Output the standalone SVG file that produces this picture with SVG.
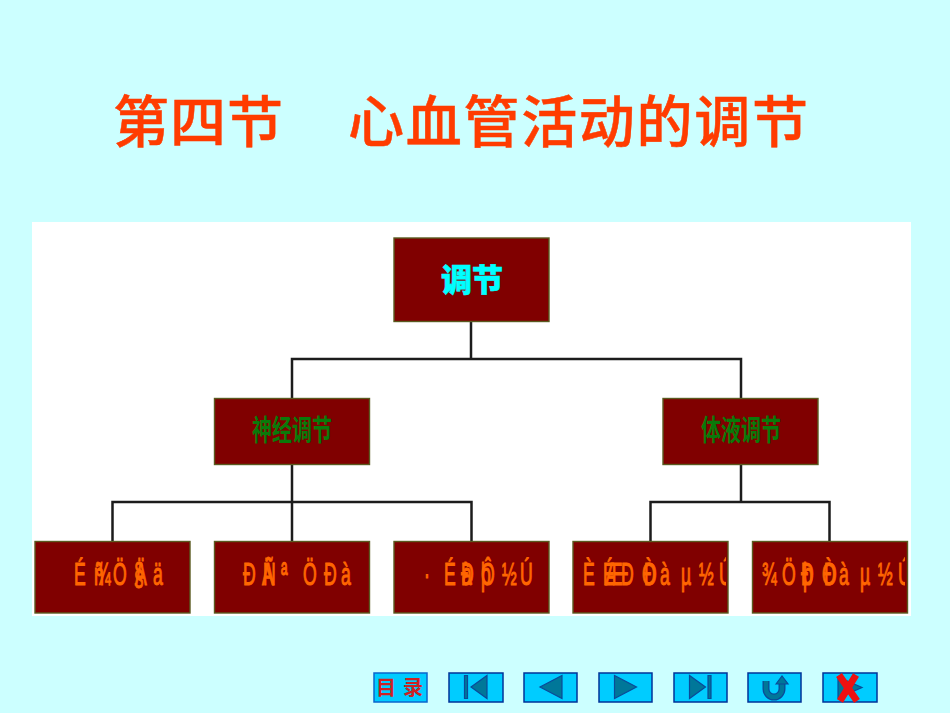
<svg xmlns="http://www.w3.org/2000/svg" width="950" height="713" viewBox="0 0 950 713">
<style>
.cjk{font-family:"Noto Sans CJK SC","Noto Sans",sans-serif}
.title{font-size:56px;fill:#ff3c00;font-weight:500;stroke:#ff3c00;stroke-width:.5}
.box{fill:#800000;stroke:#5a5a20;stroke-width:1.4}
.conn{fill:none;stroke:#1c1c1c;stroke-width:2.500}
.g{font-family:"Liberation Sans",sans-serif;font-size:32px;fill:#ff6600;stroke:#ff6600;stroke-width:1.1}
.lv2{font-size:29px;fill:#0a7a0a;font-weight:700}
.btn{fill:#00ccff;stroke:#003399;stroke-width:1.5}
.ic{fill:#007799;stroke:#0a4a99;stroke-width:1.2}
</style>
<defs>
<clipPath id="c4"><rect x="573" y="541" width="153" height="72"/></clipPath>
<clipPath id="c5"><rect x="752" y="541" width="153" height="72"/></clipPath>
</defs>
<rect width="950" height="713" fill="#ccffff"/>
<rect x="32" y="222" width="879" height="394" fill="#ffffff"/>
<g id="title" class="cjk title">
<text x="113" y="142" textLength="170" lengthAdjust="spacing">第四节</text>
<text x="348" y="142" textLength="460" lengthAdjust="spacing">心血管活动的调节</text>
</g>
<g id="connectors">
<path class="conn" d="M471 322V359M292 398V359H741V398"/>
<path class="conn" d="M292 465V502M112.500 541V502H471.500V541M292 502V541"/>
<path class="conn" d="M741 465V502M650.500 541V502H829.500V541"/>
</g>
<g id="root"><rect class="box" x="394" y="238" width="155" height="83.500"/>
<text class="cjk" x="441 472" y="291" font-size="31" font-weight="900" fill="#00ffff" stroke="#00ffff" stroke-width=".6">调节</text></g>
<g id="neural"><rect class="box" x="214.500" y="398.500" width="155" height="66"/>
<text class="cjk lv2" transform="translate(252 441) scale(.69 1)">神经调节</text></g>
<g id="humoral"><rect class="box" x="663" y="398.500" width="155" height="66"/>
<text class="cjk lv2" transform="translate(701 441) scale(.69 1)">体液调节</text></g>
<g id="leaf1"><rect class="box" x="35" y="541.500" width="155" height="71.500"/>
<text class="g" transform="scale(.55 1)" y="585" x="134.500 170.900 174.500 205.500 243.600 245.500 278.200">Éñ¾Ö§Ää</text></g>
<g id="leaf2"><rect class="box" x="214.500" y="541.500" width="155" height="71.500"/>
<text class="g" transform="scale(.55 1)" y="585" x="441.800 476.400 478.200 510.900 550.900 589.100 620">ÐÄÑªÖÐà</text></g>
<g id="leaf3"><rect class="box" x="394" y="541.500" width="155" height="71.500"/>
<text class="g" transform="scale(.55 1)" y="585" x="770.900 807.300 838.200 840 874.500 874.500 912.700 945.500">·ÉÐàþÔ½Ú</text></g>
<g id="leaf4"><rect class="box" x="573" y="541.500" width="155" height="71.500"/>
<g clip-path="url(#c4)"><text class="g" transform="scale(.55 1)" y="585" x="1060 1096.400 1100 1129.100 1167.300 1170.900 1200 1238.200 1270.900 1307.300">ÈÉÆÐÒÐàµ½Ú</text></g></g>
<g id="leaf5"><rect class="box" x="752.500" y="541.500" width="155" height="71.500"/>
<g clip-path="url(#c5)"><text class="g" transform="scale(.55 1)" y="585" x="1385.500 1421.800 1456.400 1460 1494.500 1498.200 1525.500 1563.600 1596.400 1632.700">¾ÖÐþÒÐàµ½Ú</text></g></g>
<g id="nav">
<g id="btn-menu"><rect class="btn" style="stroke:#0a66cc" x="374" y="673" width="53" height="29"/><text class="cjk" x="376 403" y="695" font-size="20" font-weight="700" fill="#cc2222">目录</text></g>
<g id="btn-first"><rect class="btn" x="449" y="673" width="54" height="29"/><path class="ic" d="M464.500 675.500h3v23h-3zM487 675.500v23l-16-11.500z"/></g>
<g id="btn-prev"><rect class="btn" x="524" y="673" width="53" height="29"/><path class="ic" d="M562 675.500v23l-22-11.500z"/></g>
<g id="btn-next"><rect class="btn" x="599" y="673" width="53" height="29"/><path class="ic" d="M614.500 675.500v23l22-11.500z"/></g>
<g id="btn-last"><rect class="btn" x="674" y="673" width="53" height="29"/><path class="ic" d="M689.500 675.500v23l16-11.500zM708 675.500h3v23h-3z"/></g>
<g id="btn-return"><rect class="btn" x="748" y="673" width="53" height="29"/><path d="M766 681v8a8 8 0 0 0 16 0v-7" fill="none" stroke="#0a4a99" stroke-width="7"/><path d="M766 681v8a8 8 0 0 0 16 0v-7" fill="none" stroke="#007799" stroke-width="4.500"/><path class="ic" d="M776 684l6-8 6 8z"/></g>
<g id="btn-exit"><rect class="btn" x="823" y="673" width="54" height="29"/><path class="ic" d="M838 677v21l24-10.500z"/><path d="M839 675l18 26M856 675l-16 26" stroke="#ee1111" stroke-width="7" fill="none"/></g>
</g>
</svg>
